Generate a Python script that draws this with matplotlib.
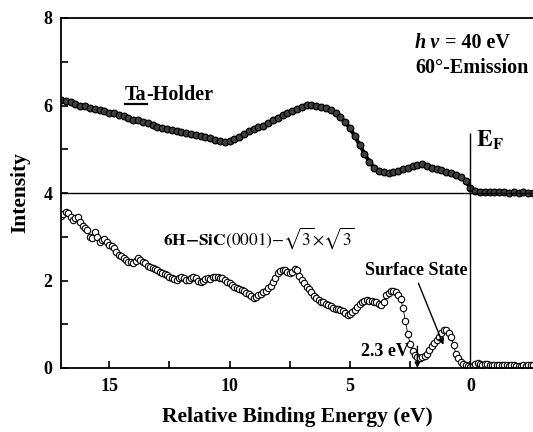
import matplotlib
matplotlib.use('Agg')
import matplotlib.pyplot as plt
import numpy as np
from matplotlib.lines import Line2D

# binding energy grids (eV): Ta holder read every 0.2 eV, SiC every 0.1 eV
energy_ta = np.round(np.arange(17.0, -2.61, -0.2), 1)
energy_sic = np.round(np.arange(17.0, -2.61, -0.1), 1)

ta_holder = [6.12, 6.10, 6.07, 6.03, 6.00, 5.98, 5.95, 5.93, 5.90, 5.88,
             5.83, 5.82, 5.78, 5.75, 5.71, 5.68, 5.66, 5.62, 5.60, 5.56,
             5.52, 5.49, 5.46, 5.43, 5.41, 5.39, 5.37, 5.35, 5.32, 5.31,
             5.28, 5.25, 5.22, 5.20, 5.17, 5.19, 5.24, 5.29, 5.35, 5.41,
             5.46, 5.50, 5.54, 5.60, 5.66, 5.72, 5.78, 5.84, 5.88, 5.93,
             5.97, 6.01, 6.02, 5.99, 5.97, 5.94, 5.89, 5.82, 5.73, 5.62,
             5.48, 5.30, 5.10, 4.90, 4.72, 4.58, 4.50, 4.47, 4.45, 4.47,
             4.50, 4.54, 4.58, 4.61, 4.63, 4.66, 4.62, 4.58, 4.55, 4.52,
             4.49, 4.46, 4.42, 4.37, 4.27, 4.12, 4.04, 4.03, 4.03, 4.02,
             4.02, 4.03, 4.02, 4.01, 4.02, 4.01, 4.02, 4.01, 4.01]

sic = [3.48, 3.52, 3.56, 3.54, 3.45, 3.38, 3.42, 3.46, 3.33, 3.25,
       3.20, 3.15, 3.00, 2.98, 3.12, 3.00, 2.89, 2.92, 2.96, 2.88,
       2.81, 2.78, 2.74, 2.66, 2.58, 2.55, 2.51, 2.47, 2.43, 2.42,
       2.40, 2.45, 2.51, 2.48, 2.43, 2.40, 2.34, 2.31, 2.29, 2.27,
       2.23, 2.20, 2.18, 2.15, 2.12, 2.09, 2.06, 2.03, 2.01, 2.05,
       2.09, 2.05, 2.02, 2.01, 2.05, 2.09, 2.06, 2.00, 1.97, 2.00,
       2.03, 2.05, 2.04, 2.07, 2.09, 2.08, 2.06, 2.05, 2.01, 1.97,
       1.95, 1.90, 1.86, 1.83, 1.80, 1.78, 1.75, 1.72, 1.70, 1.64,
       1.59, 1.63, 1.67, 1.70, 1.73, 1.76, 1.82, 1.88, 1.96, 2.05,
       2.18, 2.21, 2.23, 2.23, 2.20, 2.17, 2.20, 2.26, 2.24, 2.10,
       2.01, 1.95, 1.86, 1.80, 1.73, 1.65, 1.60, 1.56, 1.52, 1.50,
       1.47, 1.44, 1.41, 1.38, 1.36, 1.35, 1.33, 1.30, 1.26, 1.21,
       1.24, 1.28, 1.33, 1.40, 1.47, 1.52, 1.53, 1.55, 1.54, 1.53,
       1.52, 1.50, 1.47, 1.44, 1.52, 1.66, 1.72, 1.77, 1.76, 1.74,
       1.68, 1.58, 1.38, 1.08, 0.78, 0.55, 0.40, 0.30, 0.26, 0.24,
       0.25, 0.28, 0.33, 0.42, 0.50, 0.57, 0.64, 0.72, 0.79, 0.86,
       0.87, 0.81, 0.70, 0.53, 0.32, 0.22, 0.14, 0.09, 0.06, 0.04,
       0.03, 0.05, 0.09, 0.11, 0.09, 0.08, 0.09, 0.10, 0.08, 0.07,
       0.08, 0.06, 0.07, 0.08, 0.07, 0.06, 0.05, 0.06, 0.07, 0.05,
       0.05, 0.04, 0.06, 0.05, 0.06, 0.07, 0.06]

offset_level = 4.0
fermi_level = 0.0
fermi_line_top = 5.37
gap_energy = 2.2

plt.rcParams['font.family'] = ['Liberation Serif', 'DejaVu Serif']
plt.rcParams['mathtext.fontset'] = 'stix'

fig = plt.figure(figsize=(5.33, 4.32), dpi=100)
ax = fig.add_axes([61 / 533, 64 / 432, 472 / 533, 350 / 432])

ax.plot(energy_ta, ta_holder, marker='o', ms=4.8, mfc='0.25', mec='black',
        mew=0.9, color='black', lw=2.8)
ax.plot(energy_sic, sic, marker='o', ms=4.6, mfc='white', mec='black',
        mew=0.8, color='black', lw=0.6)

ax.axhline(offset_level, color='black', lw=1.0)
ax.vlines(fermi_level, 0, fermi_line_top, color='black', lw=1.0)

ax.set_xlim(17, -2.6)
ax.set_ylim(0, 8)
ax.set_xticks([15, 10, 5, 0])
ax.set_xticks([12.5, 7.5, 2.5], minor=True)
ax.set_yticks([0, 2, 4, 6, 8])
ax.set_yticks([1, 3, 5, 7], minor=True)
ax.tick_params(which='both', direction='in', length=5, width=1.2,
               top=False, right=False, labelsize=13)
for lab in ax.get_xticklabels() + ax.get_yticklabels():
    lab.set_fontweight('bold')
ax.tick_params(axis='x', pad=7)
ax.tick_params(axis='y', pad=6)
ax.spines['right'].set_visible(False)
for s in ['left', 'top', 'bottom']:
    ax.spines[s].set_linewidth(1.3)

ax.set_xlabel('Relative Binding Energy (eV)', fontsize=15.5, fontweight='bold')
ax.set_ylabel('Intensity', fontsize=15.5, fontweight='bold')
ax.xaxis.set_label_coords(0.5, -0.112)
ax.yaxis.set_label_coords(-0.066, 0.5)

# labels
t_ta = ax.text(14.34, 6.24, 'Ta', fontsize=14.5, fontweight='bold',
               va='center', ha='left')
ax.annotate('-Holder', xy=(1, 0), xycoords=t_ta, va='bottom', ha='left',
            fontsize=14.5, fontweight='bold')

t_h = ax.text(2.28, 7.43, 'h\u2009\u03bd', fontsize=14.5, fontweight='bold',
              fontstyle='italic', va='center', ha='left')
ax.annotate(' = 40 eV', xy=(1, 0), xycoords=t_h, va='bottom', ha='left',
            fontsize=14.5, fontweight='bold')
ax.text(2.28, 6.86, '60\u00b0-Emission', fontsize=14.5, fontweight='bold',
        va='center', ha='left')

ax.text(-0.25, 5.2, r'$\mathbf{E}_{\mathbf{F}}$', fontsize=17,
        va='center', ha='left')

ax.text(12.75, 2.97,
        r'$\mathbf{6H}{\mathbf{-}}\mathbf{SiC}(0001){-}\sqrt{3}{\times}\sqrt{3}$',
        fontsize=12.5, va='center', ha='left')

ax.text(4.36, 2.22, 'Surface State', fontsize=13, fontweight='bold',
        va='center', ha='left')
ax.annotate('', xy=(1.12, 0.53), xytext=(2.16, 1.94),
            arrowprops=dict(arrowstyle='-|>', color='black', lw=1.0,
                            mutation_scale=9, shrinkA=0, shrinkB=0))

ax.text(4.56, 0.37, '2.3 eV', fontsize=13, fontweight='bold',
        va='center', ha='left')
ax.annotate('', xy=(gap_energy, 0.0), xytext=(gap_energy, 0.5),
            arrowprops=dict(arrowstyle='-|>', color='black', lw=1.0,
                            mutation_scale=8, shrinkA=0, shrinkB=0))

# underline "Ta"
fig.canvas.draw()
bb = t_ta.get_window_extent()
inv = fig.transFigure.inverted()
(x0, y0), (x1, _) = inv.transform([(bb.x0, bb.y0 + 1.5), (bb.x1, bb.y0 + 1.5)])
fig.add_artist(Line2D([x0, x1], [y0, y0], color='black', lw=1.6,
                      transform=fig.transFigure))

fig.savefig('out.png', dpi=100)
